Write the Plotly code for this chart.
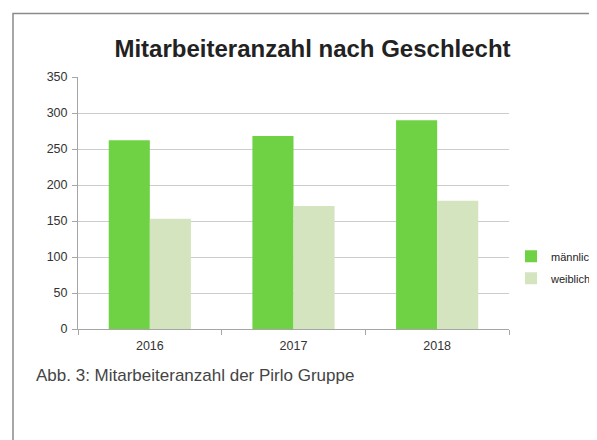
import plotly.graph_objects as go

years = ["2016", "2017", "2018"]
maennlich = [262, 268, 290]
weiblich = [153, 171, 178]
y_ticks = [0, 50, 100, 150, 200, 250, 300, 350]

# page body has an 8px margin; figure coordinates are reference minus 8
OFF = 8
W, H = 597 - OFF, 440 - OFF
L, R, T, B = 78 - OFF, 509 - OFF, 76.6 - OFF, 329.3 - OFF
pw, ph = R - L, B - T

def px(x):
    return (x - OFF - L) / pw

def py(y):
    return (B - (y - OFF)) / ph

fig = go.Figure()
fig.add_trace(go.Bar(x=years, y=maennlich, name="männlich", legendgroup="m",
                     marker=dict(color="#6fd244", line=dict(width=0))))
fig.add_trace(go.Bar(x=years, y=weiblich, name="weiblich", legendgroup="w",
                     marker=dict(color="#d4e4bf", line=dict(width=0))))

fig.update_layout(
    width=W, height=H,
    margin=dict(l=L, r=W - R, t=T, b=H - B, pad=0, autoexpand=False),
    paper_bgcolor="white", plot_bgcolor="white",
    barmode="group", bargap=0.428, bargroupgap=0,
    font=dict(family="Liberation Sans, Arial, sans-serif", size=12, color="#333333"),
    title=dict(text="<b>Mitarbeiteranzahl nach Geschlecht</b>",
               x=(312.5 - OFF) / W, xref="container", xanchor="center",
               y=1 - (49 - OFF) / H, yanchor="middle",
               font=dict(size=24, color="#222222")),
    legend=dict(x=px(511), y=py(267.5), xanchor="left", yanchor="middle",
                font=dict(size=11, color="#222222"), itemwidth=30,
                traceorder="grouped", tracegroupgap=3,
                bgcolor="rgba(0,0,0,0)", borderwidth=0),
    showlegend=True,
)

fig.update_yaxes(range=[0, 350], tickvals=y_ticks, showgrid=True,
                 gridcolor="#cccccc", gridwidth=1, zeroline=False,
                 showline=True, linecolor="#a6a6a6", linewidth=1,
                 ticks="outside", ticklen=5, tickcolor="#a6a6a6",
                 ticklabelstandoff=2,
                 tickfont=dict(size=12.5, color="#333333"))
fig.update_xaxes(showgrid=False, showline=True, linecolor="#a6a6a6", linewidth=1,
                 ticks="outside", ticklen=5, tickcolor="#a6a6a6",
                 tickson="boundaries", ticklabelstandoff=5,
                 tickfont=dict(size=12.5, color="#333333"))

# outer frame
fig.add_shape(type="rect", xref="paper", yref="paper",
              x0=px(13), y0=py(700), x1=px(1000), y1=py(13),
              line=dict(color="#8a8a8a", width=1.5), fillcolor="rgba(0,0,0,0)",
              layer="below")

fig.add_annotation(text="Abb. 3: Mitarbeiteranzahl der Pirlo Gruppe",
                   xref="paper", yref="paper", x=px(34), y=py(376),
                   xanchor="left", yanchor="middle", showarrow=False,
                   font=dict(size=17, color="#444444"))

fig.write_html("out.html")
